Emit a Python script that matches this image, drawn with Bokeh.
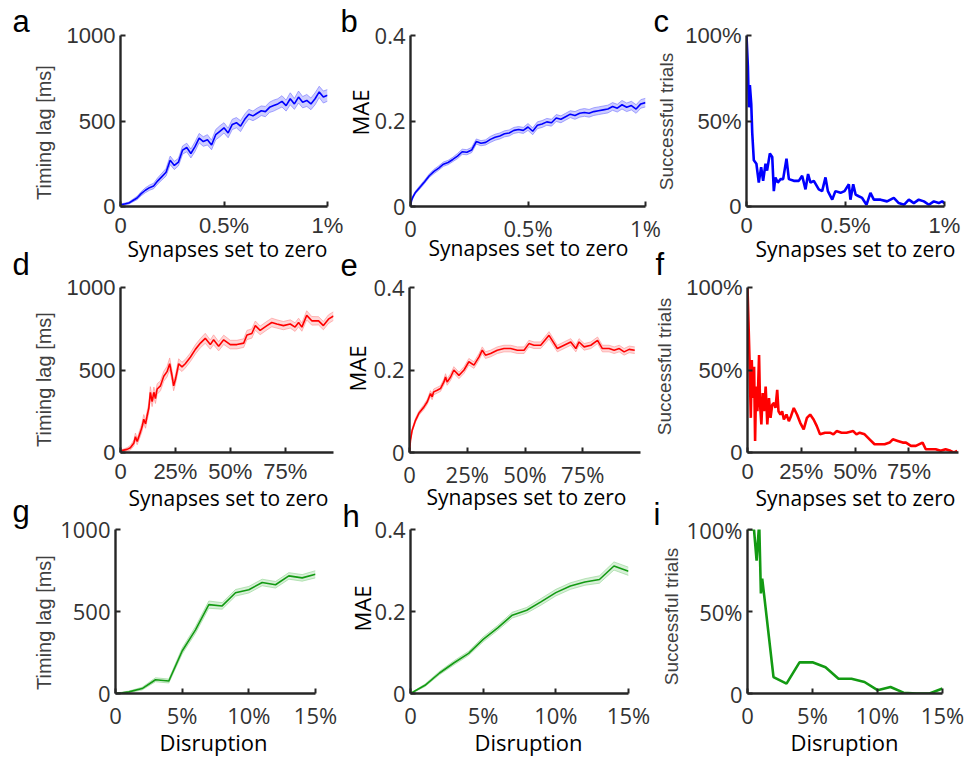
import math
from bokeh.plotting import figure
from bokeh.layouts import row, column
from bokeh.models import Range1d, FixedTicker, Label
from bokeh.embed import file_html
from bokeh.resources import INLINE

BLUE, RED, GREEN = "#0000ff", "#ff0000", "#139a13"
AXIS = "#262626"

# ---- a: timing lag vs. synapses set to zero (0-1%) ----
a_x = [0, 0.02, 0.04, 0.06, 0.08, 0.10, 0.12, 0.14, 0.16, 0.18, 0.20, 0.22, 0.24, 0.26,
       0.28, 0.30, 0.32, 0.34, 0.36, 0.38, 0.40, 0.42, 0.44, 0.46, 0.48, 0.50, 0.52,
       0.54, 0.56, 0.58, 0.60, 0.62, 0.64, 0.66, 0.68, 0.70, 0.72, 0.74, 0.76, 0.78,
       0.80, 0.82, 0.84, 0.86, 0.88, 0.90, 0.92, 0.94, 0.96, 0.98, 1.00]
a_lag = [10, 15, 20, 35, 50, 75, 95, 110, 120, 150, 175, 200, 270, 240, 260, 330, 345,
         310, 350, 400, 380, 390, 360, 420, 440, 460, 430, 480, 490, 470, 510, 540, 530,
         545, 560, 555, 580, 590, 600, 615, 590, 630, 600, 640, 610, 620, 600, 630, 670,
         640, 650]
a_sem = [4, 5, 6, 8, 10, 12, 14, 15, 16, 18, 20, 22, 25, 24, 22, 24, 25, 26, 28, 27, 28,
         30, 28, 30, 32, 30, 28, 30, 30, 32, 30, 28, 28, 30, 28, 30, 30, 32, 30, 33, 32,
         35, 32, 35, 33, 35, 34, 35, 33, 35, 34]

# ---- b: MAE vs. synapses set to zero (0-1%) ----
b_x = [0, 0.005, 0.01, 0.02, 0.04, 0.06, 0.08, 0.10, 0.12, 0.14, 0.16, 0.18, 0.20, 0.22,
       0.24, 0.26, 0.28, 0.30, 0.32, 0.34, 0.36, 0.38, 0.40, 0.42, 0.44, 0.46, 0.48,
       0.50, 0.52, 0.54, 0.56, 0.58, 0.60, 0.62, 0.64, 0.66, 0.68, 0.70, 0.72, 0.74,
       0.76, 0.78, 0.80, 0.82, 0.84, 0.86, 0.88, 0.90, 0.92, 0.94, 0.96, 0.98, 1.00]
b_mae = [0, 0.015, 0.022, 0.032, 0.045, 0.058, 0.072, 0.082, 0.09, 0.099, 0.103, 0.11,
         0.118, 0.128, 0.127, 0.132, 0.152, 0.148, 0.15, 0.157, 0.162, 0.165, 0.17,
         0.172, 0.178, 0.18, 0.178, 0.186, 0.176, 0.19, 0.193, 0.198, 0.196, 0.207,
         0.204, 0.21, 0.216, 0.213, 0.218, 0.22, 0.218, 0.222, 0.224, 0.226, 0.228,
         0.234, 0.23, 0.238, 0.232, 0.236, 0.228, 0.24, 0.243]
b_sem = [0, 0.002, 0.003, 0.003, 0.004, 0.004, 0.004, 0.005, 0.005, 0.005, 0.005, 0.005,
         0.006, 0.006, 0.006, 0.006, 0.006, 0.006, 0.006, 0.007, 0.007, 0.007, 0.007,
         0.007, 0.007, 0.007, 0.007, 0.008, 0.008, 0.008, 0.008, 0.008, 0.008, 0.008,
         0.008, 0.008, 0.008, 0.009, 0.009, 0.009, 0.009, 0.009, 0.009, 0.009, 0.009,
         0.009, 0.009, 0.010, 0.010, 0.010, 0.010, 0.010, 0.010]

# ---- c: successful trials vs. synapses set to zero (0-1%) ----
c_x = [0, 0.007, 0.012, 0.017, 0.024, 0.029, 0.037, 0.05, 0.062, 0.074, 0.084, 0.096,
       0.104, 0.118, 0.13, 0.138, 0.146, 0.158, 0.172, 0.185, 0.202, 0.214, 0.239, 0.264,
       0.281, 0.298, 0.311, 0.323, 0.34, 0.365, 0.382, 0.399, 0.411, 0.433, 0.449, 0.475,
       0.495, 0.517, 0.525, 0.539, 0.551, 0.567, 0.584, 0.606, 0.626, 0.643, 0.677, 0.71,
       0.744, 0.769, 0.795, 0.82, 0.845, 0.87, 0.896, 0.921, 0.946, 0.971, 0.988, 1.0]
c_succ = [100, 82, 58, 71, 60, 43, 27, 25, 14, 23, 15, 25, 21, 31, 29, 9, 17, 14, 16, 16,
          28, 16, 15, 15, 18, 10, 19, 14, 15, 10, 9, 17, 9, 4, 9, 8, 9, 13, 4, 13, 7, 6,
          5, 1, 8, 4, 4, 3, 5, 2, 1, 4, 2, 4, 3, 1, 3, 2, 3, 2]

# ---- d: timing lag vs. synapses set to zero (0-100%) ----
d_x = [0, 3.0, 4.5, 6.1, 6.8, 7.6, 9.1, 9.8, 10.6, 11.4, 12.1, 12.9, 13.6, 14.4, 15.2,
       15.9, 16.7, 18.2, 19.7, 21.2, 22.4, 23.5, 24.2, 25.0, 26.5, 28.0, 29.5, 31.8, 34.1,
       36.4, 38.6, 40.9, 42.4, 44.7, 47.0, 50.0, 53.0, 56.1, 57.6, 59.8, 61.4, 63.6, 66.7,
       68.9, 71.2, 74.2, 77.3, 79.5, 81.1, 82.6, 84.8, 87.1, 90.2, 92.4, 94.7, 97.0]
d_lag = [10, 19, 29, 58, 96, 67, 125, 154, 202, 173, 221, 269, 365, 308, 365, 327, 385,
         404, 462, 490, 538, 462, 404, 442, 538, 519, 538, 577, 625, 663, 692, 654, 683,
         644, 683, 654, 654, 663, 712, 721, 769, 740, 769, 788, 779, 769, 779, 760, 788,
         760, 831, 798, 798, 769, 808, 827]
d_sem = [4, 10, 14, 18, 22, 20, 24, 26, 28, 26, 28, 30, 34, 30, 32, 30, 32, 30, 30, 32,
         35, 32, 30, 28, 30, 28, 26, 26, 28, 28, 30, 28, 30, 28, 28, 26, 26, 26, 28, 28,
         28, 26, 26, 26, 25, 25, 25, 26, 26, 25, 28, 26, 25, 25, 26, 26]

# ---- e: MAE vs. synapses set to zero (0-100%) ----
e_x = [0, 0.43, 1.16, 2.6, 4.05, 6.2, 7.7, 9.1, 9.8, 10.5, 12.0, 13.4, 14.9, 15.6, 16.3,
       17.8, 19.2, 21.4, 23.6, 25.7, 27.9, 30.1, 31.5, 32.9, 35.1, 38.0, 40.9, 43.8, 46.7,
       49.6, 51.7, 53.9, 56.8, 60.4, 64.0, 66.9, 69.8, 72.0, 73.4, 75.6, 78.5, 81.4, 83.5,
       86.4, 88.6, 90.8, 92.9, 95.1, 97.5]
e_mae = [0, 0.03, 0.054, 0.078, 0.095, 0.11, 0.123, 0.143, 0.135, 0.147, 0.151, 0.155,
         0.171, 0.183, 0.171, 0.183, 0.2, 0.187, 0.2, 0.22, 0.212, 0.232, 0.248, 0.236,
         0.24, 0.248, 0.252, 0.252, 0.248, 0.248, 0.264, 0.26, 0.26, 0.284, 0.252, 0.26,
         0.268, 0.252, 0.268, 0.256, 0.26, 0.272, 0.252, 0.252, 0.248, 0.252, 0.244,
         0.25, 0.248]
e_sem = [0, 0.003, 0.004, 0.005, 0.005, 0.006, 0.006, 0.007, 0.007, 0.007, 0.007, 0.007,
         0.007, 0.008, 0.008, 0.008, 0.008, 0.008, 0.008, 0.008, 0.008, 0.008, 0.008,
         0.008, 0.008, 0.008, 0.008, 0.008, 0.008, 0.008, 0.008, 0.008, 0.008, 0.009,
         0.008, 0.008, 0.008, 0.008, 0.008, 0.008, 0.008, 0.008, 0.008, 0.008, 0.008,
         0.008, 0.008, 0.008, 0.008]

# ---- f: successful trials vs. synapses set to zero (0-100%) ----
f_x = [0, 0.46, 0.92, 1.53, 1.99, 2.45, 3.07, 3.53, 3.99, 4.6, 5.37, 5.83, 6.44, 7.06,
       7.67, 8.44, 9.2, 9.97, 10.7, 11.5, 12.3, 13.0, 13.8, 14.4, 15.3, 16.1, 16.9, 18.1,
       19.2, 20.2, 21.5, 23.0, 24.5, 26.1, 27.6, 29.1, 30.7, 32.2, 33.7, 36.0, 38.3, 39.9,
       41.4, 43.7, 46.0, 49.1, 50.6, 52.1, 54.4, 56.7, 59.0, 61.3, 63.7, 66.0, 67.5, 69.8,
       72.1, 73.6, 75.9, 78.2, 81.3, 82.8, 85.1, 87.4, 89.7, 92.0, 94.3, 95.9, 97.4]
f_succ = [100, 79, 57, 21, 56, 33, 52, 7, 40, 25, 59, 29, 17, 36, 25, 40, 17, 33, 21, 29,
          30, 27, 38, 25, 23, 25, 20, 23, 19, 22, 27, 23, 18, 14, 21, 23, 20, 16, 11, 12,
          12, 11, 13, 12, 12, 13, 11, 12, 11, 8, 5, 5, 5, 6, 8, 7, 6, 6, 4, 4, 6, 2, 2, 2,
          1, 2, 1, 0, 1]

# ---- g, h, i: disruption sweeps (0-15%) ----
g_x = [0, 0.5, 1, 2, 3, 4, 5, 6, 7, 8, 9, 10, 11, 12, 13, 14, 15]
g_lag = [0, 4, 10, 30, 84, 76, 259, 388, 542, 534, 614, 633, 677, 663, 717, 705, 727]
g_sem = [2, 4, 5, 8, 12, 12, 18, 20, 22, 20, 20, 20, 20, 20, 20, 20, 22]

h_x = [0, 1, 2, 3, 4, 5, 6, 7, 8, 9, 10, 11, 12, 13, 14, 15]
h_mae = [0, 0.02, 0.05, 0.075, 0.098, 0.132, 0.16, 0.191, 0.203, 0.224, 0.246, 0.262,
         0.272, 0.278, 0.311, 0.298]
h_sem = [0.001, 0.003, 0.004, 0.005, 0.005, 0.006, 0.006, 0.007, 0.007, 0.008, 0.008,
         0.008, 0.008, 0.009, 0.010, 0.010]

i_x = [0, 0.25, 0.5, 0.7, 0.9, 1.03, 1.13, 1.28, 2, 3, 4, 5, 6, 7, 8, 9, 10, 11, 12, 13,
       14, 15]
i_succ = [100, 100, 100, 81, 104, 61, 70, 60, 10, 6, 19, 19, 16, 9, 9, 7, 2, 4, 0.5, 0,
          0, 3]

# ---- tick labels ----
small_ticks, small_labels = [0, 0.5, 1], ["0", "0.5%", "1%"]
big_ticks, big_labels = [0, 25, 50, 75], ["0", "25%", "50%", "75%"]
dis_ticks, dis_labels = [0, 5, 10, 15], ["0", "5%", "10%", "15%"]
lag_ticks, lag_labels = [0, 500, 1000], ["0", "500", "1000"]
mae_ticks, mae_labels = [0, 0.2, 0.4], ["0", "0.2", "0.4"]
succ_ticks, succ_labels = [0, 50, 100], ["0", "50%", "100%"]

HELV, SEGOE = "Liberation Sans", "Open Sans"
# distance (in em) from the middle of a text box up to its baseline
MID_TO_BASE = {HELV: 0.347, SEGOE: 0.388}
SYN, DIS = "Synapses set to zero", "Disruption"
LAG, MAE, SUC = "Timing lag [ms]", "MAE", "Successful trials"
YLAB_STYLE = {
    LAG: (HELV, 20, "#404040"),
    MAE: (SEGOE, 22, "#000000"),
    SUC: (HELV, 19, "#404040"),
}


def panel(canvas, frame, xr, yr, xt, xtl, yt, ytl, tick_font):
    """One subplot; canvas and frame boxes are page pixels (left, top, right, bottom)."""
    cl, ct, cr, cb = canvas
    fl, ft, fr, fb = frame
    p = figure(width=cr - cl, height=cb - ct,
               x_range=Range1d(*xr), y_range=Range1d(*yr),
               output_backend="svg", toolbar_location=None,
               min_border_left=fl - cl, min_border_right=cr - fr,
               min_border_top=ft - ct, min_border_bottom=cb - fb)
    p.grid.visible = False
    p.outline_line_color = None
    for ax in (p.xaxis[0], p.yaxis[0]):
        ax.axis_line_color = AXIS
        ax.axis_line_width = 2.4
        ax.major_tick_line_color = AXIS
        ax.major_tick_line_width = 2
        ax.major_tick_in = 5
        ax.major_tick_out = 0
        ax.minor_tick_line_color = None
        ax.major_label_text_font = tick_font
        ax.major_label_text_font_size = "22px"
        ax.major_label_text_color = "#333333"
    p.xaxis.ticker = FixedTicker(ticks=xt)
    p.xaxis.major_label_overrides = {t: s for t, s in zip(xt, xtl)}
    p.yaxis.ticker = FixedTicker(ticks=yt)
    p.yaxis.major_label_overrides = {t: s for t, s in zip(yt, ytl)}
    p.xaxis.major_label_standoff = 6
    p.yaxis.major_label_standoff = 5
    return p


def band(p, x, y, s, color, fill):
    lo = [v - e for v, e in zip(y, s)]
    hi = [v + e for v, e in zip(y, s)]
    p.varea(x=x, y1=lo, y2=hi, fill_color=fill, fill_alpha=0.35)
    p.line(x, lo, line_color=fill, line_width=1, line_alpha=0.6)
    p.line(x, hi, line_color=fill, line_width=1, line_alpha=0.6)
    p.line(x, y, line_color=color, line_width=1.6)


# row 1: 0-1% of synapses
pa = panel((0, 0, 350, 256), (120, 35, 327, 206), (0, 1), (0, 1000),
           small_ticks, small_labels, lag_ticks, lag_labels, HELV)
band(pa, a_x, a_lag, a_sem, BLUE, "#6f6fff")
pb = panel((350, 0, 668, 256), (410, 24, 645, 209), (0, 1), (0, 0.4),
           small_ticks, small_labels, mae_ticks, mae_labels, SEGOE)
band(pb, b_x, b_mae, b_sem, BLUE, "#6f6fff")
pc = panel((668, 0, 966, 256), (746, 35, 944, 207), (0, 1), (0, 100),
           small_ticks, small_labels, succ_ticks, succ_labels, HELV)
pc.line(c_x, c_succ, line_color=BLUE, line_width=2.6)

# row 2: 0-100% of synapses
pd = panel((0, 256, 340, 507), (120, 280, 333, 453), (0, 97), (0, 1000),
           big_ticks, big_labels, lag_ticks, lag_labels, HELV)
band(pd, d_x, d_lag, d_sem, RED, "#ff8c8c")
pe = panel((340, 256, 650, 507), (409, 287, 640, 452), (0, 100), (0, 0.4),
           big_ticks, big_labels, mae_ticks, mae_labels, SEGOE)
band(pe, e_x, e_mae, e_sem, RED, "#ff8c8c")
pf = panel((650, 256, 966, 507), (747, 279, 958, 453), (0, 98), (0, 100),
           big_ticks, big_labels, succ_ticks, succ_labels, HELV)
pf.line(f_x, f_succ, line_color=RED, line_width=2.6)

# row 3: disruption 0-15%
pg = panel((0, 507, 350, 760), (115, 529, 315, 697), (0, 15), (0, 1000),
           dis_ticks, dis_labels, lag_ticks, lag_labels, SEGOE)
band(pg, g_x, g_lag, g_sem, GREEN, "#8fd48f")
ph = panel((350, 507, 665, 760), (410, 529, 628, 693), (0, 15), (0, 0.4),
           dis_ticks, dis_labels, mae_ticks, mae_labels, SEGOE)
band(ph, h_x, h_mae, h_sem, GREEN, "#8fd48f")
pi = panel((665, 507, 966, 760), (747, 529, 942, 697), (0, 15), (0, 100),
           dis_ticks, dis_labels, succ_ticks, succ_labels, SEGOE)
pi.line(i_x, i_succ, line_color=GREEN, line_width=2.6)

# transparent page-sized layer for panel letters and axis titles (page pixels, y down)
ov = figure(width=966, height=760, x_range=Range1d(0, 966), y_range=Range1d(760, 0),
            x_axis_type=None, y_axis_type=None, output_backend="svg",
            toolbar_location=None, min_border=0, min_border_left=0, min_border_right=0,
            min_border_top=0, min_border_bottom=0, border_fill_color=None,
            background_fill_color=None, outline_line_color=None,
            margin=(-760, 0, 0, 0))


def put(text, x, y, font, size, color, align="left", vertical=False):
    """Place text so that its baseline passes through (x, y) in page pixels."""
    shift = MID_TO_BASE[font] * size
    if vertical:
        ax, ay, angle = x - shift, y, math.pi / 2
    else:
        ax, ay, angle = x, y - shift, 0
    ov.add_layout(Label(x=ax, y=ay, text=text, text_font=font,
                        text_font_size=f"{size}px", text_color=color,
                        text_align=align, text_baseline="middle", angle=angle))


letters = [("a", 12, 32), ("b", 340, 32), ("c", 653, 32),
           ("d", 12, 275), ("e", 340, 275), ("f", 655, 275),
           ("g", 12, 522), ("h", 342, 527), ("i", 653, 525)]
for s, x, y in letters:
    put(s, x, y, HELV, 31, "#000000")

x_titles = [(SYN, 227, 257), (SYN, 528, 256), (SYN, 855, 257),
            (SYN, 228, 506), (SYN, 526, 505), (SYN, 855, 506),
            (DIS, 213, 750), (DIS, 528, 750), (DIS, 844, 750)]
for s, x, y in x_titles:
    put(s, x, y, SEGOE, 22 if s == DIS else 21, "#000000", align="center")

y_titles = [(LAG, 50, 132), (MAE, 368, 112), (SUC, 673, 121),
            (LAG, 50, 379), (MAE, 365, 368), (SUC, 671, 366),
            (LAG, 50, 622), (MAE, 370, 608), (SUC, 678, 616)]
for s, x, y in y_titles:
    fnt, size, col = YLAB_STYLE[s]
    put(s, x, y, fnt, size, col, align="center", vertical=True)

layout = column(row(pa, pb, pc), row(pd, pe, pf), row(pg, ph, pi), ov)
open("out.html", "w").write(file_html(layout, INLINE))
